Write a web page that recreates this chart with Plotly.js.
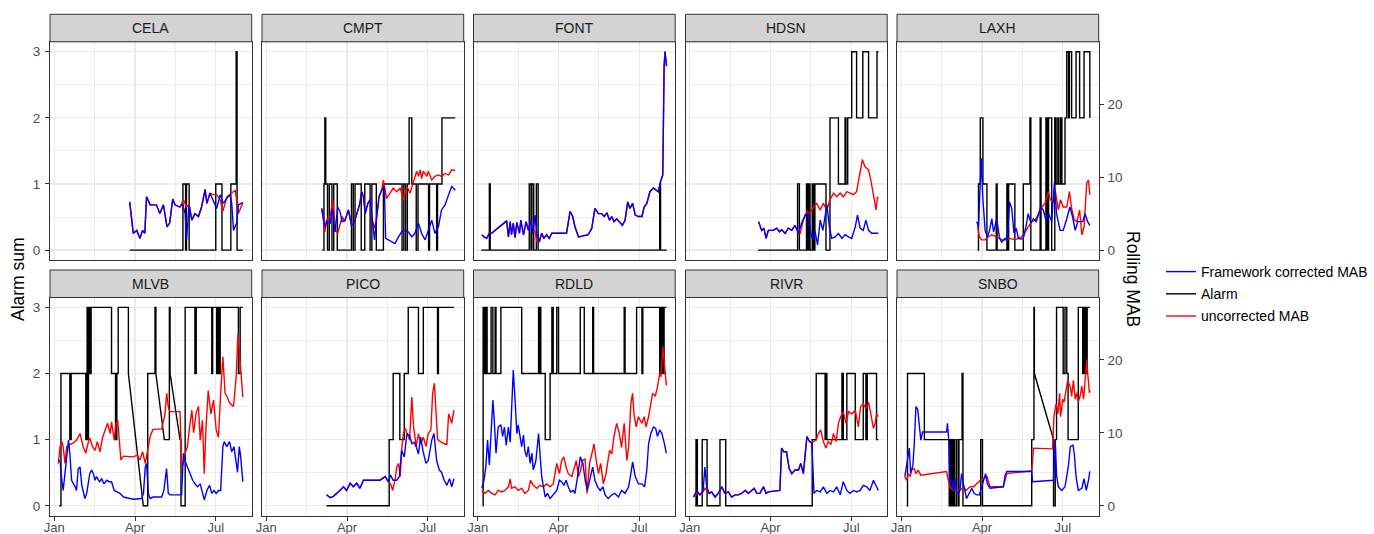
<!DOCTYPE html>
<html>
<head>
<meta charset="utf-8">
<script src="https://cdn.plot.ly/plotly-3.0.1.min.js"></script>
<style>html,body{margin:0;padding:0;background:#fff;}#chart{width:1374px;height:534px;}</style>
</head>
<body>
<div id="chart"></div>
<script>
// ---- Data (x = day of year 2020, 0 = Jan 1) ----
const stations = ['CELA','CMPT','FONT','HDSN','LAXH','MLVB','PICO','RDLD','RIVR','SNBO'];
const tickLabels = ['Jan','Apr','Jul'];
const tickDays = [0, 91, 182];
const alarmTicks = [0, 1, 2, 3];
const mabTicks = [0, 10, 20];

// Alarm sum (step changes: [day, value]; 'l' = straight join across a data gap)
const celaAlarm = [[85,0],[145,1],[148,0],[149,1],[152,0],[182,1],[189,0],[199,1],[205,3],[206,0],[212.5,0]];
const cmptAlarm = [[63,0],[65,1],[66,2],[67,1],[69,0],[71,1],[74,0],[76,1],[80,0],[96,1],[98,0],[100,1],[107,0],[111,1],[117,0],[119,1],[124,0],[132,1],[153,0],[155,1],[157,0],[159,1],[161,2],[164,1],[169,0],[171,1],[183,0],[184,1],[192,0],[193,1],[198,2],[213,2]];
const fontAlarm = [[4,0],[13,1],[14,0],[58,1],[60,0],[61,1],[63,0],[66,1],[68,0],[205,1],[206,0],[213,0]];
const hdsnAlarm = [[77,0],[121.5,1],[123.5,0],[131.5,1],[132.5,0],[134,1],[135.5,0],[138,1],[139.5,0],[141,1],[153.5,0],[158,2],[167.5,1],[175,2],[176,1],[178,2],[182.5,3],[188,2],[195,3],[201.5,2],[211,3],[212.5,3]];
const laxhAlarm = [[86,0],[87,1],[89,2],[92,1],[96.5,0],[107,1],[108,0],[119,1],[120,0],[121,1],[128,0],[137.5,1],[145,2],[146,0],[156.5,2],[157.5,0],[163,2],[164.5,0],[166,2],[169.5,0],[173,2],[174.5,1],[176.5,2],[177.5,1],[179.5,2],[181,1],[184.5,2],[186.5,3],[188.5,2],[189.5,3],[192,2],[197,3],[201,2],[206,3],[212.5,2]];
const mlvbAlarm = [[5.5,0],[7.5,2],[17.5,1],[19,2],[35.5,1],[37,3],[37.5,1],[38.5,3],[40,2],[41.5,3],[64.5,2],[69,1],[70.5,2],[72,3],[83.5,2],[100.3,0,'l'],[105.3,2],[113.5,3],[114.5,2],[124,1,'l'],[129.7,3],[130.5,2],[141.7,1,'l'],[142.8,0],[147.5,3],[158.5,2],[160,3],[177.5,2],[178.5,3],[183,2],[184,3],[185.5,2],[187,3],[207.5,2],[209.5,3],[212.5,3]];
const picoAlarm = [[68,0],[138.5,1],[143,2],[150.5,1],[155.5,2],[160,3],[171.5,2],[177,3],[193,2],[194,3],[211.5,3]];
const rdldAlarm = [[5.5,0],[6,3],[7.5,2],[9,3],[10.5,2],[15,3],[17,2],[19.5,3],[20.5,2],[26,3],[49.5,2],[68.5,3],[69.5,2],[70.5,3],[71,2],[76,1],[81.5,2],[83.5,3],[85,2],[89,3],[91,2],[115.5,3],[120,2],[129.5,3],[130.5,2],[165,3],[166,2],[179,3],[185,2],[186,3],[205,2],[206,3],[207,2],[208,3],[209,2],[210,3],[212.5,3]];
const rivrAlarm = [[6,0],[7,1],[8.5,0],[14,1],[19.5,0],[34,1],[40.5,0],[138,1],[142.5,2],[152.5,1],[153.5,2],[154.5,1],[171.5,2],[173,1],[177,2],[186.5,1],[195.5,2],[198.5,1],[200,2],[210.5,1],[212.5,1]];
const snboAlarm = [[6,0],[7,2],[26,1],[54,0],[55.5,1],[57,0],[58.5,1],[60,0],[62,1],[64,0],[65,1],[68.5,2],[69.5,0],[89.5,1],[91.5,0],[147,1],[149.5,3],[150,2],[171.5,1,'l'],[171.6,0],[173.5,1],[175,3],[182.5,2],[184.5,3],[186.5,2],[188,1],[199.5,3],[204.5,2],[205.5,3],[206.5,2],[207.5,3],[208.5,2],[209.5,3],[212.5,3]];

// Framework corrected MAB (rolling)
const celaBlue = [[85,6.6],[89,2.3],[93,2.7],[96.5,1.6],[99.5,2.7],[102,2.3],[104,7.3],[108,6.2],[115,6.2],[119,5.0],[123,6.2],[127,3.2],[130,3.7],[133.5,7.0],[136,6.2],[141.5,5.9],[144.5,6.3],[147.5,5.0],[149,1.4],[152,6.2],[155,4.1],[158.5,5.0],[162.5,4.6],[166,5.9],[170,8.3],[172,6.4],[175.5,7.8],[179,6.9],[183,5.7],[187,7.6],[190.5,6.4],[194.5,7.1],[198,7.6],[200,6.4],[202,2.7],[205.5,3.7],[207.5,6.2],[212.5,6.5]];
const cmptBlue = [[62.5,5.7],[66,3.2],[68,3.9],[72,3.7],[74.5,5.7],[77.5,2.5],[80.5,5.9],[83,5.3],[85.5,3.9],[88.5,4.1],[92.5,5.5],[96,3.4],[99,3.7],[102,5.0],[105.5,6.4],[107.5,8.0],[109.5,7.3],[111.5,5.0],[114.5,6.4],[117,6.9],[119.5,4.1],[122,1.4],[124.5,4.6],[127,7.3],[130,8.2],[133,8.7],[134.5,1.6],[137.5,1.4],[141.5,1.1],[145,0.9],[149,1.8],[152.5,2.5],[156.5,2.7],[160,2.5],[164,1.8],[167.5,2.3],[171.5,3.7],[175,2.3],[179,1.4],[182.5,2.7],[186.5,4.1],[190,2.3],[194,3.2],[197.5,5.5],[201.5,6.2],[205.5,7.6],[209,8.7],[213,8.2]];
const fontBlue = [[4.5,2.1],[7,1.8],[10,1.6],[13,2.3],[15.5,2.3],[32.5,4.0],[34.5,1.8],[36.5,3.9],[38,2.1],[40,3.7],[42,1.7],[44,3.8],[47,2.3],[48.5,4.1],[51.5,2.1],[54.5,3.9],[57,2.7],[59.5,4.1],[62,2.3],[64.5,4.8],[66.5,2.3],[69.5,1.1],[72,2.3],[74.5,1.6],[77.5,2.1],[80.5,1.6],[83.5,2.3],[100,2.3],[104,5.3],[107,4.6],[109.5,3.2],[113.5,1.8],[124.5,2.1],[128.5,3.0],[132,5.7],[136,5.0],[139.5,5.0],[142.5,4.6],[145.5,5.1],[148.5,4.1],[151,4.6],[153.5,3.9],[156.5,4.3],[160.5,3.7],[163,3.4],[166,4.1],[169,6.6],[171.5,5.7],[174.5,6.4],[177.5,4.8],[181,4.6],[185,4.6],[187.5,5.9],[190.5,6.4],[194,8.0],[198,8.5],[201,8.2],[203.5,8.0],[206,9.4],[208.5,10.3],[210,25.2],[211,27.2],[212,26.1],[212.7,25.2]];
const hdsnBlue = [[77.5,3.9],[81,2.7],[83.5,3.0],[86,1.6],[88.5,2.7],[94,2.7],[98,3.0],[101,2.5],[103.5,2.8],[107.5,2.3],[111,3.0],[115,2.7],[118.5,3.4],[122.5,2.3],[126,3.7],[130,4.8],[133.5,5.0],[136.5,2.3],[138.5,1.4],[141,2.7],[144,0.7],[147,4.1],[150,2.7],[152.5,5.0],[154.5,6.2],[157.5,3.0],[160,1.6],[164,1.8],[167.5,2.3],[171.5,1.6],[175,2.1],[179,1.8],[182.5,1.6],[186.5,3.2],[189,4.8],[192,3.0],[195.5,2.7],[198.5,4.1],[201.5,2.7],[205,2.3],[209,2.3],[212.5,2.3]];
const laxhBlue = [[85,3.9],[87,3.2],[89,9.2],[90,12.6],[92,6.9],[94.5,2.7],[97,1.8],[99.5,2.7],[102,4.3],[104,2.5],[105.5,3.2],[107.5,4.3],[110.5,1.8],[113,1.1],[117,1.6],[119.5,1.4],[122,6.6],[124.5,5.7],[127,2.3],[129.5,3.0],[132,1.6],[135,1.5],[137.5,1.6],[140.5,3.2],[143,5.0],[146,3.7],[149,4.3],[152,3.9],[154.5,4.8],[157,5.9],[160,5.5],[163,4.1],[166,5.0],[169.5,3.9],[172.5,9.2],[175,5.0],[179,2.7],[182.5,2.7],[186.5,4.3],[190,5.9],[193,4.6],[196,2.7],[199,3.9],[201.5,3.9],[204.5,3.9],[207,5.0],[210,3.9],[212.5,3.4]];
const mlvbBlue = [[4.5,6.3],[6.5,6.1],[8.5,3.5],[10,2.1],[12,4.4],[14,6.7],[16,9.0],[17.5,7.2],[19.5,3.5],[23.5,2.6],[25,2.1],[27,5.1],[29,5.3],[31,2.8],[32.5,2.1],[34.5,1.0],[36.5,1.7],[38.5,3.5],[40,4.4],[42,4.9],[44,4.4],[46,3.5],[47.5,4.0],[51,3.3],[53.5,3.7],[56,3.0],[59,3.5],[62,3.3],[64.5,3.3],[67.5,2.1],[70.5,1.9],[74,1.7],[78,1.2],[83.5,1.0],[89,0.9],[98.5,1.0],[100.5,1.7],[102.5,5.3],[104,5.8],[106,1.7],[108,1.0],[111.5,1.2],[121,1.2],[123.5,2.1],[126.5,5.1],[128.5,1.7],[130.5,1.5],[143.5,1.5],[145.5,7.2],[147.5,6.1],[150,5.3],[153,4.4],[156,3.5],[158.5,3.0],[161.5,2.6],[164.5,3.0],[166,2.1],[169,0.8],[172,2.1],[175,2.8],[177.5,1.7],[180,2.1],[182.5,1.7],[185,2.1],[187.5,2.1],[190,8.1],[191.5,8.8],[194.5,8.1],[197.5,8.8],[200,7.4],[202.5,8.1],[205,5.8],[206.5,4.6],[208.5,8.1],[210,6.8],[212.5,3.3]];
const picoBlue = [[68,1.5],[72,1.1],[75.5,1.3],[79.5,1.7],[83,2.1],[87,2.6],[90.5,2.1],[94.5,3.1],[98,2.6],[102,3.1],[105.5,2.4],[109.5,3.5],[113,3.5],[120.5,3.6],[128,3.5],[134,4.0],[137.5,3.3],[140,4.2],[143,3.5],[147,3.5],[150,4.0],[152.5,7.6],[155.5,6.7],[158.5,9.9],[161.5,9.6],[164,8.5],[166.5,8.7],[169,8.1],[171.5,7.1],[174,9.4],[177,7.3],[180,5.8],[182.5,6.2],[186.5,9.0],[189,9.9],[192,6.2],[195,4.9],[197.5,4.6],[200.5,3.5],[203.5,2.8],[206.5,3.7],[209,2.6],[211.5,3.7]];
const rdldBlue = [[4.5,2.4],[7,3.5],[9,5.3],[11,9.0],[13,5.6],[15,10.8],[17,14.5],[18.5,11.8],[20.5,7.2],[23,10.8],[26,11.1],[28,9.5],[30,10.8],[32,8.3],[34.5,10.8],[36.5,8.7],[38,13.1],[40,18.6],[42,14.5],[44,9.9],[45.5,11.1],[47.5,9.7],[49.5,8.1],[51.5,9.7],[53,7.6],[55,6.7],[57,8.1],[59,5.8],[61,7.2],[62.5,4.9],[65.5,6.2],[68.5,9.9],[70,7.2],[72,4.0],[76,1.2],[78.5,1.7],[81.5,1.0],[85,1.5],[89,2.1],[92,3.5],[94.5,3.3],[97,2.8],[99.5,3.5],[102,2.6],[104.5,1.9],[107.5,2.1],[109.5,1.7],[112.5,4.0],[115.5,6.7],[118.5,5.8],[121,3.5],[123.5,2.1],[126.5,3.5],[129.5,5.3],[132,3.5],[135,2.6],[138,2.1],[141,2.6],[143.5,1.5],[147,1.0],[151,1.5],[154.5,1.7],[158.5,1.2],[162,2.1],[166,1.7],[170,2.6],[172.5,4.4],[174.5,6.0],[177.5,4.0],[181,3.0],[185,3.0],[188,2.6],[190.5,4.9],[192.5,8.5],[195,9.9],[198,10.8],[200.5,10.6],[202.5,9.5],[205,10.4],[207.5,9.9],[210,8.7],[212.5,7.2]];
const rivrBlue = [[4,1.2],[8,2.1],[11.5,1.5],[15,2.1],[17,5.3],[19,2.6],[22,1.7],[24.5,1.9],[28.5,1.2],[32,1.7],[36,2.6],[39.5,1.7],[43.5,1.9],[47,1.2],[51,1.5],[54.5,1.5],[58.5,1.7],[62.5,2.1],[66,1.7],[70,2.1],[72.5,2.4],[75.5,1.7],[79,1.7],[83,2.6],[86,1.7],[88.5,1.9],[101.5,2.1],[103.5,7.9],[106,7.4],[109,7.4],[112,5.1],[115,4.4],[118.5,4.9],[122.5,4.9],[125,5.8],[128,4.4],[132,9.5],[135,8.8],[137.5,8.6],[140,1.7],[143,2.1],[147,1.9],[150.5,2.6],[154.5,1.7],[158,2.1],[162,1.9],[165.5,2.6],[169.5,1.5],[173,3.3],[177,2.1],[180.5,1.7],[184.5,2.1],[188,1.9],[192,2.1],[195.5,2.8],[199.5,2.6],[203,2.1],[207,3.5],[210,2.8],[212.5,2.1]];
const snboBlue = [[4,4.0],[7,6.7],[9,7.9],[10.5,4.5],[13,5.5],[14.5,8.2],[16.5,13.6],[18.5,13.2],[20.5,10.5],[22,9.0],[24,10.1],[51,10.1],[52,11.3],[53.5,9.0],[55,3.1],[57,3.5],[58.5,2.1],[60.5,3.7],[62.5,1.7],[64.5,1.7],[66,2.1],[68,4.4],[70,3.0],[72,1.9],[73.5,1.0],[76.5,1.7],[79.5,2.4],[82,1.7],[85,1.5],[88,1.5],[90.5,2.6],[92.5,3.5],[95,4.4],[97,3.0],[100,2.4],[115,2.6],[117,4.2],[119,4.7],[147,4.7],[148,3.3],[171.5,3.5],[173.5,9.0],[175,4.2],[177,2.6],[181,2.1],[184.5,2.6],[188.5,5.6],[190.5,8.1],[193.5,8.3],[195,7.1],[197,4.0],[199.5,2.1],[203.5,2.4],[206,3.7],[208.5,2.1],[211,3.5],[212.5,4.7]];

// uncorrected MAB (rolling)
const celaRed = [[85,6.6],[89,2.3],[93,2.7],[96.5,1.6],[99.5,2.7],[102,2.3],[104,7.3],[108,6.2],[115,6.2],[119,5.0],[123,6.2],[127,3.2],[130,3.7],[133.5,7.0],[136,6.2],[141.5,5.9],[145.5,6.9],[149,5.9],[152,6.2],[155,4.1],[158.5,5.0],[162.5,4.6],[166,5.9],[170,8.3],[172,6.4],[175.5,7.8],[179,7.6],[183,7.6],[187,6.9],[190,5.3],[194.5,7.3],[198,7.6],[202,8.0],[204,8.2],[207.5,5.0],[212.5,6.5]];
const cmptRed = [[62.5,5.7],[66,2.5],[68,4.1],[72,4.6],[75,6.9],[78,2.7],[80.5,2.3],[85.5,4.6],[88.5,3.9],[92.5,5.5],[96,3.4],[99,3.7],[102,5.0],[105.5,6.4],[107.5,8.0],[109.5,7.3],[111.5,5.0],[114.5,6.4],[117,6.9],[119.5,4.1],[122,3.0],[124.5,4.6],[127,7.3],[130,8.2],[132,9.6],[135.5,7.1],[139.5,7.8],[143,8.5],[147,8.0],[151,8.5],[154.5,6.9],[158.5,8.7],[162,7.8],[166,9.6],[169.5,10.8],[171.5,10.1],[173.5,11.0],[175,9.8],[177,10.8],[181,10.1],[182.5,10.8],[186.5,9.6],[190,10.1],[194,10.3],[197.5,10.1],[201.5,10.5],[205.5,10.3],[209,11.0],[213,10.9]];
const fontRed = [[4.5,2.1],[7,1.8],[10,1.6],[13,2.3],[15.5,2.3],[32.5,4.0],[34.5,1.8],[36.5,3.9],[38,2.1],[40,3.7],[42,1.7],[44,3.8],[47,2.3],[48.5,4.1],[51.5,2.1],[54.5,3.9],[57,2.7],[59.5,4.1],[62,3.0],[64.5,2.6],[66.5,1.2],[69.5,1.4],[72,2.3],[74.5,1.6],[77.5,2.1],[80.5,1.6],[83.5,2.3],[100,2.3],[104,5.3],[107,4.6],[109.5,3.2],[113.5,1.8],[124.5,2.1],[128.5,3.0],[132,5.7],[136,5.0],[139.5,5.0],[142.5,4.6],[145.5,5.1],[148.5,4.1],[151,4.6],[153.5,3.9],[156.5,4.3],[160.5,3.7],[163,3.4],[166,4.1],[169,6.6],[171.5,5.7],[174.5,6.4],[177.5,4.8],[181,4.6],[185,4.6],[187.5,5.9],[190.5,6.4],[194,8.0],[198,8.5],[201,8.2],[203.5,8.0],[206,9.4],[208.5,10.3],[210,25.2],[211,27.2],[212,26.1],[212.7,25.2]];
const hdsnRed = [[77.5,3.9],[81,2.7],[83.5,3.0],[86,1.6],[88.5,2.7],[94,2.7],[98,3.0],[101,2.5],[103.5,2.8],[107.5,2.3],[111,3.0],[115,2.7],[118.5,3.4],[122.5,2.3],[124.5,2.3],[128,4.1],[132,5.3],[135.5,5.0],[139.5,5.9],[143,6.4],[147,5.5],[150.5,6.4],[154.5,5.5],[158,6.9],[162,7.8],[165.5,7.3],[169.5,7.8],[173,7.3],[177,8.0],[180.5,7.8],[184.5,7.6],[188,8.0],[192,10.5],[194.5,12.4],[197.5,11.4],[201.5,11.0],[204,9.6],[207,7.8],[210,5.5],[211.5,7.3],[212.5,7.1]];
const laxhRed = [[86,3.2],[88,1.8],[90.5,1.4],[94.5,1.4],[98,1.8],[102,2.1],[107.5,1.8],[113,1.4],[117,1.4],[122.5,1.6],[128,1.4],[135.5,1.8],[139.5,2.5],[143,3.2],[147,3.9],[151,4.1],[154.5,5.0],[158.5,5.9],[162,6.4],[166,8.0],[167.5,7.1],[170.5,6.4],[173.5,8.2],[177,5.5],[179.5,6.9],[182.5,5.9],[186.5,5.9],[189.5,8.0],[192,5.7],[195,4.1],[198,3.9],[201,5.5],[203.5,2.1],[206,3.2],[209,9.2],[211,9.6],[212.5,7.6]];
const mlvbRed = [[4.5,5.8],[6.5,8.1],[8.5,8.8],[10,8.1],[12,5.8],[14,8.1],[17.5,8.4],[21.5,8.6],[25,9.0],[29,9.9],[32.5,8.1],[35.5,7.2],[38.5,8.8],[40,9.3],[43,8.1],[46,7.6],[48.5,8.8],[51.5,7.4],[54.5,9.4],[57,10.4],[60,11.3],[63,9.9],[64.5,11.5],[67.5,9.0],[69.5,11.2],[71.5,11.7],[73.5,8.1],[75,6.3],[78,6.8],[83.5,6.7],[89,6.7],[93,6.9],[96.5,6.3],[99.5,7.4],[102.5,5.8],[106,8.1],[108,9.5],[111,10.4],[113.5,10.5],[121,10.5],[124.8,12.6],[126.7,15.4],[128.5,13.5],[130.5,12.9],[141.7,12.9],[143.6,5.3],[145.5,5.8],[147.5,7.2],[150,8.1],[152.5,10.8],[155,13.1],[157,10.0],[160,12.8],[162.5,13.6],[164.5,9.0],[167,11.7],[169,4.4],[171,10.8],[173.5,15.8],[176.5,12.6],[179.5,14.5],[182.5,10.4],[185,9.4],[187.5,15.4],[190,20.4],[192.5,15.4],[194.5,15.0],[197.5,14.1],[200,13.8],[202,13.6],[205,17.7],[207,23.6],[208.5,21.3],[210,19.0],[212.5,14.9]];
const picoRed = [[68,1.5],[72,1.1],[75.5,1.3],[79.5,1.7],[83,2.1],[87,2.6],[90.5,2.1],[94.5,3.1],[98,2.6],[102,3.1],[105.5,2.4],[109.5,3.5],[113,3.5],[120.5,3.6],[128,3.5],[134,4.0],[137.5,3.3],[140,3.0],[142.5,2.1],[145,3.5],[147,5.3],[149,5.8],[151,4.0],[152.5,7.6],[154.5,9.9],[156.5,10.6],[159,9.9],[161.5,9.0],[164,14.9],[166,10.8],[169,8.1],[171.5,9.9],[174,8.5],[177,9.4],[180,8.1],[182.5,9.9],[185.5,10.4],[187.5,15.4],[189.5,16.8],[191.5,13.2],[193,9.1],[195,8.9],[197.5,8.7],[200.5,8.5],[203.5,8.4],[205.5,12.6],[207,12.1],[209,11.3],[211.5,13.1]];
const rdldRed = [[4.5,2.1],[8,1.7],[12,2.1],[15.5,1.7],[19.5,1.5],[23,2.1],[27,1.9],[30.5,2.1],[34.5,2.6],[36.5,3.7],[38,2.4],[42,2.6],[45.5,2.1],[49.5,2.4],[53,1.7],[57,2.1],[59.5,3.5],[62.5,2.8],[66.5,2.4],[70,2.8],[74,2.6],[77.5,3.0],[81.5,2.6],[85,3.0],[89,5.8],[92,4.4],[94.5,6.2],[97,6.7],[99.5,5.3],[102,4.4],[106,4.0],[108.5,5.3],[111,6.2],[113.5,4.0],[116,4.9],[118,6.2],[121,6.4],[123,1.7],[126,5.8],[128.5,7.1],[131,8.5],[133.5,6.2],[136,4.4],[138.5,5.8],[141.5,3.0],[144.5,4.4],[148.5,7.6],[151,7.1],[153.5,9.5],[156.5,11.3],[159.5,9.9],[162,8.0],[165,11.3],[168,6.2],[170,8.0],[172.5,14.0],[174.5,15.4],[176,12.6],[178.5,10.8],[181,12.2],[185,11.3],[187.5,12.2],[189.5,10.8],[192.5,12.2],[195,14.0],[197,15.4],[200,15.0],[202.5,16.3],[205,18.1],[206.5,17.7],[208.5,21.8],[210,20.1],[212.5,16.5]];
const rivrRed = [[4,1.2],[8,1.7],[11.5,1.5],[15,1.9],[17,2.4],[19,2.1],[22,1.7],[24.5,1.9],[28.5,1.2],[32,1.7],[36,2.6],[39.5,1.7],[43.5,1.9],[47,1.2],[51,1.5],[54.5,1.5],[58.5,1.7],[62.5,2.1],[66,1.7],[70,2.1],[72.5,2.4],[75.5,1.7],[79,1.7],[83,2.6],[86,1.7],[88.5,1.9],[101.5,2.1],[103.5,7.9],[106,7.4],[109,7.4],[112,5.1],[115,4.4],[118.5,4.9],[122.5,4.9],[125,5.8],[128,4.4],[132,9.5],[135,8.8],[137.5,8.6],[139.5,8.8],[142.5,9.0],[145,9.9],[147.5,10.4],[150.5,8.8],[153.5,7.9],[156,8.8],[159,8.4],[162,9.9],[165,8.8],[167.5,11.3],[170,12.2],[173,12.9],[176,11.3],[179,12.9],[182.5,12.6],[186.5,13.1],[190,10.8],[192.5,13.6],[195.5,14.0],[198.5,13.3],[201.5,14.2],[204,12.6],[207,10.6],[209,11.3],[210.5,12.6],[212.5,12.2]];
const snboRed = [[4,4.0],[6,3.5],[8,4.4],[10,4.0],[11.5,4.9],[14.5,5.1],[16.5,4.4],[19,4.9],[22,4.2],[51,4.7],[53,3.5],[55,2.6],[58.5,2.1],[62.5,2.4],[66,2.1],[70,2.6],[73,2.1],[77.5,2.6],[81.5,2.6],[85,3.0],[89,3.5],[92.5,3.7],[96.5,4.0],[100,2.6],[115,2.6],[119,4.4],[147,4.8],[149,7.9],[170.5,7.8],[172,12.2],[174.5,14.0],[176.5,12.6],[178.5,15.4],[179.5,12.2],[182,14.6],[183.5,14.2],[185.5,15.8],[187.5,17.2],[190.5,16.3],[192,15.0],[194,17.2],[196,14.6],[198,15.5],[199.5,14.2],[201.5,15.0],[203.5,16.4],[205.5,14.6],[207,17.2],[209,20.0],[210,18.3],[212,15.5],[212.8,15.8]];

const alarmSeries = [celaAlarm,cmptAlarm,fontAlarm,hdsnAlarm,laxhAlarm,mlvbAlarm,picoAlarm,rdldAlarm,rivrAlarm,snboAlarm];
const blueSeries = [celaBlue,cmptBlue,fontBlue,hdsnBlue,laxhBlue,mlvbBlue,picoBlue,rdldBlue,rivrBlue,snboBlue];
const redSeries = [celaRed,cmptRed,fontRed,hdsnRed,laxhRed,mlvbRed,picoRed,rdldRed,rivrRed,snboRed];

// ---- helpers ----
function dd(d){ return new Date(Date.UTC(2020,0,1) + d*86400000).toISOString().slice(0,19).replace('T',' '); }
function stepXY(pts){
  const x=[], y=[];
  pts.forEach((p,i)=>{
    if(i===0 || p[2]==='l'){ x.push(dd(p[0])); y.push(p[1]); }
    else { x.push(dd(p[0])); y.push(pts[i-1][1]); x.push(dd(p[0])); y.push(p[1]); }
  });
  return {x,y};
}
function lineXY(pts){ return {x: pts.map(p=>dd(p[0])), y: pts.map(p=>p[1])}; }

// ---- layout geometry ----
const W=1374, H=534;
const colL=[50,262,473.5,685.5,897], panelW=201.7;
const rowTop=[41.8,297.5], rowBot=[260,515.7], stripH=27.5;
const K = 9.06; // secondary-axis scale (Rolling MAB per Alarm unit)
const yr=[-0.15,3.15];
const FONT="Liberation Sans, Arial, Helvetica, sans-serif";
const LW=1.4;

const data=[], layout={
  width:W, height:H, margin:{l:0,r:0,t:0,b:0},
  paper_bgcolor:'#fff', plot_bgcolor:'#fff',
  font:{family:FONT, color:'#000'},
  showlegend:true,
  legend:{x:1161/W, xanchor:'left', y:1-256/H, yanchor:'top', font:{size:14,color:'#000',family:FONT},
          traceorder:'grouped', tracegroupgap:1, bgcolor:'rgba(0,0,0,0)'},
  shapes:[], annotations:[]
};

stations.forEach((st,i)=>{
  const r=Math.floor(i/5), c=i%5;
  const n=i+1, xs=n===1?'':String(n), ms=String(n+10);
  const xd=[colL[c]/W,(colL[c]+panelW)/W];
  const yd=[1-rowBot[r]/H, 1-rowTop[r]/H];
  layout['xaxis'+xs]={
    domain:xd, anchor:'y'+xs, type:'date',
    range:[dd(-4.85), dd(222.5)],
    tickmode:'array', tickvals:tickDays.map(dd), ticktext:tickLabels,
    showticklabels:r===1, ticks:r===1?'outside':'', ticklen:4, tickwidth:1, tickcolor:'#333',
    ticklabelstandoff:-4,
    tickfont:{size:13,color:'#4D4D4D',family:FONT},
    showgrid:true, gridcolor:'#EBEBEB', gridwidth:1.3,
    minor:{tickmode:'array', tickvals:[dd(45.5),dd(136.5)], showgrid:true, gridcolor:'#EDEDED', gridwidth:1, ticks:''},
    showline:true, mirror:true, linecolor:'#333', linewidth:1, zeroline:false, fixedrange:true
  };
  layout['yaxis'+xs]={
    domain:yd, anchor:'x'+xs, range:yr,
    tickmode:'array', tickvals:alarmTicks,
    showticklabels:c===0, ticks:c===0?'outside':'', ticklen:4, tickwidth:1, tickcolor:'#333',
    ticklabelstandoff:2,
    tickfont:{size:13.5,color:'#4D4D4D',family:FONT},
    showgrid:true, gridcolor:'#EBEBEB', gridwidth:1.3,
    minor:{tickmode:'array', tickvals:[0.5,1.5,2.5], showgrid:true, gridcolor:'#EDEDED', gridwidth:1, ticks:''},
    showline:true, mirror:true, linecolor:'#333', linewidth:1, zeroline:false, fixedrange:true
  };
  layout['yaxis'+ms]={
    overlaying:'y'+xs, anchor:'x'+xs, side:'right', range:[yr[0]*K, yr[1]*K],
    tickmode:'array', tickvals:mabTicks,
    showticklabels:c===4, ticks:c===4?'outside':'', ticklen:4, tickwidth:1, tickcolor:'#333',
    ticklabelstandoff:1,
    tickfont:{size:13.5,color:'#4D4D4D',family:FONT},
    showgrid:false, zeroline:false, showline:false, fixedrange:true
  };
  // strip
  layout.shapes.push({type:'rect', xref:'paper', yref:'paper',
    x0:xd[0], x1:xd[1], y0:yd[1], y1:1-(rowTop[r]-stripH)/H,
    fillcolor:'#D3D3D3', line:{color:'#333', width:1}, layer:'above'});
  layout.annotations.push({xref:'paper', yref:'paper', x:(xd[0]+xd[1])/2, y:1-(rowTop[r]-stripH/2)/H,
    text:st, showarrow:false, font:{size:14,color:'#1A1A1A',family:FONT}, xanchor:'center', yanchor:'middle'});

  const a=stepXY(alarmSeries[i]);
  data.push({x:a.x, y:a.y, xaxis:'x'+xs, yaxis:'y'+xs, type:'scatter', mode:'lines',
    line:{color:'#000', width:LW}, name:'Alarm', legendgroup:'b', legendrank:2, showlegend:i===0, hoverinfo:'skip'});
  const rd=lineXY(redSeries[i]);
  data.push({x:rd.x, y:rd.y, xaxis:'x'+xs, yaxis:'y'+ms, type:'scatter', mode:'lines',
    line:{color:'#FF0000', width:LW}, name:'uncorrected MAB', legendgroup:'c', legendrank:3, showlegend:i===0, hoverinfo:'skip'});
  const bl=lineXY(blueSeries[i]);
  data.push({x:bl.x, y:bl.y, xaxis:'x'+xs, yaxis:'y'+ms, type:'scatter', mode:'lines',
    line:{color:'#0000FF', width:LW}, name:'Framework corrected MAB', legendgroup:'a', legendrank:1, showlegend:i===0, hoverinfo:'skip'});
});

layout.annotations.push({xref:'paper', yref:'paper', x:18/W, y:1-279/H, text:'Alarm sum', textangle:-90,
  showarrow:false, font:{size:17.5,color:'#000',family:FONT}, xanchor:'center', yanchor:'middle'});
layout.annotations.push({xref:'paper', yref:'paper', x:1133/W, y:1-279/H, text:'Rolling MAB', textangle:90,
  showarrow:false, font:{size:17.5,color:'#000',family:FONT}, xanchor:'center', yanchor:'middle'});

Plotly.newPlot('chart', data, layout, {displayModeBar:false, staticPlot:true});
</script>
</body>
</html>
